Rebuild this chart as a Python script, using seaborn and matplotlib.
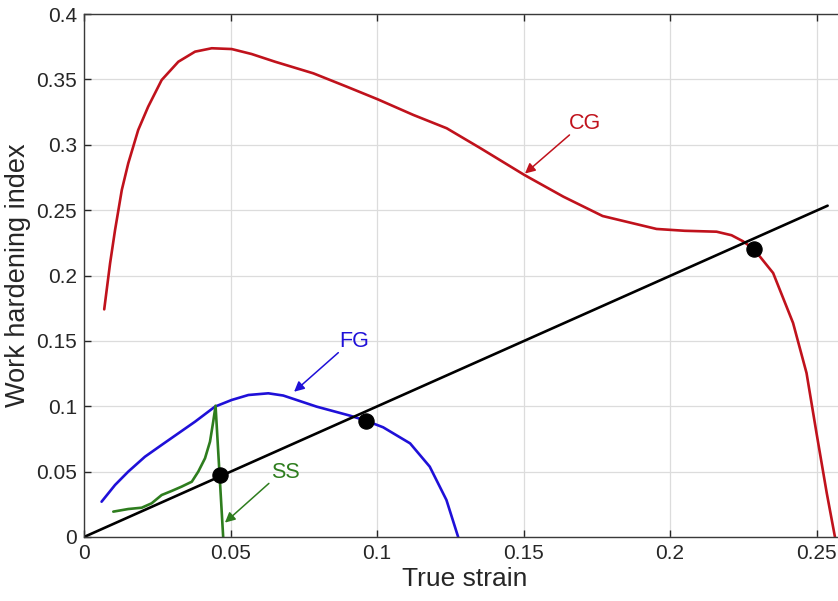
import matplotlib
matplotlib.use("Agg")
import matplotlib.pyplot as plt
import seaborn as sns

# ---- data ----
cg_x = [0.0069, 0.0089, 0.0106, 0.0129, 0.0151, 0.0185, 0.0219, 0.0265, 0.0322, 0.0379,
        0.0436, 0.0504, 0.0572, 0.0652, 0.0783, 0.0897, 0.1002, 0.1124, 0.1238, 0.1352,
        0.1503, 0.1636, 0.1770, 0.1954, 0.2050, 0.2159, 0.2210, 0.2249, 0.2287, 0.2352,
        0.2420, 0.2466, 0.2500, 0.2535, 0.2563]
cg_y = [0.1741, 0.2093, 0.2348, 0.2654, 0.2858, 0.3113, 0.3291, 0.3495, 0.3635, 0.3712,
        0.3738, 0.3732, 0.3694, 0.3635, 0.3546, 0.3444, 0.3348, 0.3228, 0.3126, 0.2975,
        0.2769, 0.2603, 0.2455, 0.2356, 0.2342, 0.2335, 0.2308, 0.2262, 0.2200, 0.2019,
        0.1637, 0.1254, 0.0795, 0.0336, 0.0]

fg_x = [0.0060, 0.0106, 0.0151, 0.0208, 0.0265, 0.0322, 0.0379, 0.0447, 0.0504, 0.0561,
        0.0629, 0.0680, 0.0794, 0.0908, 0.0962, 0.1021, 0.1113, 0.1180, 0.1237, 0.1277]
fg_y = [0.0270, 0.0398, 0.0500, 0.0614, 0.0704, 0.0793, 0.0882, 0.0997, 0.1048, 0.1086,
        0.1099, 0.1082, 0.0997, 0.0928, 0.0890, 0.0839, 0.0716, 0.0538, 0.0283, 0.0]

ss_x = [0.0100, 0.0151, 0.0197, 0.0231, 0.0265, 0.0299, 0.0333, 0.0368, 0.0390, 0.0413,
        0.0430, 0.0441, 0.0449, 0.0475]
ss_y = [0.0194, 0.0214, 0.0224, 0.0258, 0.0321, 0.0352, 0.0385, 0.0423, 0.0500, 0.0602,
        0.0729, 0.0882, 0.1004, 0.0]

ref_x = [0.0, 0.2538]
ref_y = [0.0, 0.2534]

pt_x = [0.0464, 0.0962, 0.2287]
pt_y = [0.0474, 0.0887, 0.2205]

labels = ["CG", "FG", "SS"]
label_xy = [(0.171, 0.3164), (0.0922, 0.1494), (0.0686, 0.0492)]
arrow_from = [(0.1657, 0.3075), (0.0868, 0.1410), (0.0631, 0.0410)]
arrow_to = [(0.1505, 0.2780), (0.0717, 0.1111), (0.0481, 0.0110)]

red = "#c0121c"
blue = "#1f10d8"
green = "#2e7d1e"
colors = [red, blue, green]

# ---- style ----
sns.set_style("ticks")
plt.rcParams["font.family"] = ["Liberation Sans", "DejaVu Sans"]

fig = plt.figure(figsize=(8.38, 6.01), dpi=100)
ax = fig.add_axes([84 / 838, 64 / 601, (0.26 * 2930) / 838, 523 / 601])

lw = 1.9
sns.lineplot(x=cg_x, y=cg_y, sort=False, estimator=None, color=red, lw=lw, ax=ax)
sns.lineplot(x=fg_x, y=fg_y, sort=False, estimator=None, color=blue, lw=lw, ax=ax)
sns.lineplot(x=ss_x, y=ss_y, sort=False, estimator=None, color=green, lw=lw, ax=ax)
sns.lineplot(x=ref_x, y=ref_y, sort=False, estimator=None, color="black", lw=lw, ax=ax)
sns.scatterplot(x=pt_x, y=pt_y, color="black", s=120, edgecolor="black", zorder=5, ax=ax)

for lab, lxy, af, at, c in zip(labels, label_xy, arrow_from, arrow_to, colors):
    ax.text(lxy[0], lxy[1], lab, color=c, fontsize=15.5, ha="center", va="center")
    ax.annotate("", xy=at, xytext=af,
                arrowprops=dict(arrowstyle="-|>", color=c, lw=1.1,
                                mutation_scale=15, shrinkA=0, shrinkB=0))

ax.set_xlim(0, 0.26)
ax.set_ylim(0, 0.4)
ax.set_xticks([0, 0.05, 0.1, 0.15, 0.2, 0.25])
ax.set_xticklabels(["0", "0.05", "0.1", "0.15", "0.2", "0.25"])
ax.set_yticks([0, 0.05, 0.1, 0.15, 0.2, 0.25, 0.3, 0.35, 0.4])
ax.set_yticklabels(["0", "0.05", "0.1", "0.15", "0.2", "0.25", "0.3", "0.35", "0.4"])

ax.grid(True, color="#dcdcdc", lw=0.9)
ax.set_axisbelow(True)
ax.tick_params(direction="in", length=5, width=1, colors="#262626",
               labelsize=15, top=True, right=True, pad=5)
for sp in ax.spines.values():
    sp.set_visible(True)
    sp.set_color("#3a3a3a")
    sp.set_linewidth(1.0)

ax.set_xlabel("True strain", fontsize=19, labelpad=3)
ax.set_ylabel("Work hardening index", fontsize=19.5, labelpad=4)

fig.savefig("out.png", dpi=100)
